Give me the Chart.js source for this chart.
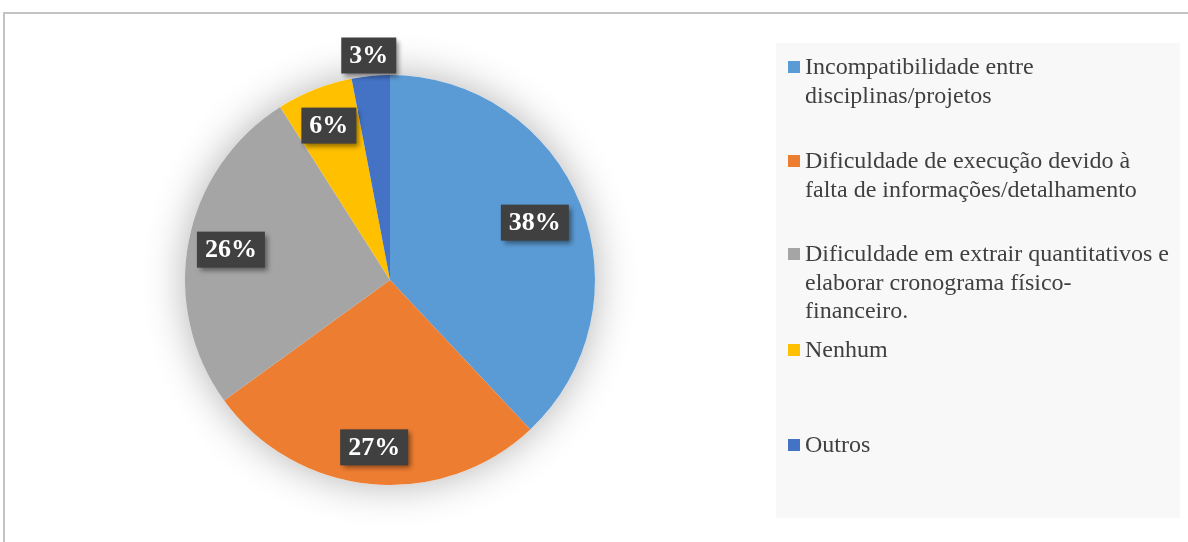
<!DOCTYPE html>
<html lang="pt">
<head>
<meta charset="utf-8">
<title>Problemas de projeto</title>
<script src="https://cdn.jsdelivr.net/npm/chart.js@4/dist/chart.umd.min.js"></script>
<style>
  body { margin: 0; background: #fff; }
  #frame {
    position: absolute; left: 3px; top: 12px;
    width: 1200px; height: 600px;
    border: 2px solid #c3c3c3; box-sizing: border-box;
  }
  #wrap { position: absolute; left: 0; top: 0; width: 1188px; height: 542px; }
</style>
</head>
<body>
<div id="frame"></div>
<div id="wrap"><canvas id="pieChart" width="1188" height="542"></canvas></div>
<script>
// Daten
const categories = [
  ['Incompatibilidade entre', 'disciplinas/projetos'],
  ['Dificuldade de execução devido à', 'falta de informações/detalhamento'],
  ['Dificuldade em extrair quantitativos e', 'elaborar cronograma físico-', 'financeiro.'],
  ['Nenhum'],
  ['Outros']
];
const values = [38, 27, 26, 6, 3];
const colors = ['#5B9BD5', '#ED7D31', '#A5A5A5', '#FFC000', '#4472C4'];

const serif = '"Liberation Serif", "Times New Roman", serif';

// Schatten unter dem Kreis
const pieShadow = {
  id: 'pieShadow',
  beforeDatasetsDraw(chart) {
    const arc = chart.getDatasetMeta(0).data[0];
    if (!arc) return;
    const ctx = chart.ctx;
    ctx.save();
    ctx.shadowColor = 'rgba(0,0,0,0.3)';
    ctx.shadowBlur = 40;
    ctx.shadowOffsetX = 0;
    ctx.shadowOffsetY = 0;
    ctx.fillStyle = '#ffffff';
    ctx.beginPath();
    ctx.arc(arc.x, arc.y, arc.outerRadius, 0, Math.PI * 2);
    ctx.fill();
    ctx.restore();
  }
};

// Prozent-Labels in dunklen Kästchen
const boxLabels = {
  id: 'boxLabels',
  afterDatasetsDraw(chart, args, opts) {
    const ctx = chart.ctx;
    const meta = chart.getDatasetMeta(0);
    const total = values.reduce((a, b) => a + b, 0);
    meta.data.forEach((arc, i) => {
      const mid = (arc.startAngle + arc.endAngle) / 2;
      const share = values[i] / total;
      const f = opts.radius[i];
      const x = arc.x + Math.cos(mid) * arc.outerRadius * f;
      const y = arc.y + Math.sin(mid) * arc.outerRadius * f;
      const text = Math.round(share * 100) + '%';
      ctx.save();
      ctx.font = 'bold 26px ' + serif;
      const w = ctx.measureText(text).width + 16;
      const h = 36;
      ctx.shadowColor = 'rgba(0,0,0,0.45)';
      ctx.shadowBlur = 5;
      ctx.shadowOffsetX = 3;
      ctx.shadowOffsetY = 3;
      ctx.fillStyle = '#404040';
      ctx.fillRect(x - w / 2, y - h / 2, w, h);
      ctx.restore();
      ctx.save();
      ctx.font = 'bold 26px ' + serif;
      ctx.fillStyle = '#ffffff';
      ctx.textAlign = 'center';
      ctx.textBaseline = 'middle';
      ctx.fillText(text, x, y + 1);
      ctx.restore();
    });
  }
};

// Legende rechts
const sideLegend = {
  id: 'sideLegend',
  afterDraw(chart) {
    const ctx = chart.ctx;
    ctx.save();
    ctx.fillStyle = '#f8f8f8';
    ctx.fillRect(776, 43, 404, 475);
    const starts = [67, 161, 254, 350, 445];
    ctx.font = '24px ' + serif;
    ctx.textBaseline = 'middle';
    categories.forEach((lines, i) => {
      ctx.fillStyle = colors[i];
      ctx.fillRect(788, starts[i] - 6, 12, 12);
      ctx.fillStyle = '#404040';
      lines.forEach((line, j) => {
        ctx.fillText(line, 805, starts[i] + 1 + j * 28.5);
      });
    });
    ctx.restore();
  }
};

new Chart(document.getElementById('pieChart'), {
  type: 'pie',
  data: {
    labels: categories.map(c => c.join(' ')),
    datasets: [{
      data: values,
      backgroundColor: colors,
      borderWidth: 0
    }]
  },
  options: {
    responsive: false,
    animation: false,
    layout: { padding: { left: 185, right: 593, top: 75, bottom: 57 } },
    plugins: {
      legend: { display: false },
      tooltip: { enabled: false },
      boxLabels: { radius: [0.76, 0.82, 0.79, 0.81, 1.1] }
    }
  },
  plugins: [pieShadow, boxLabels, sideLegend]
});
</script>
</body>
</html>
